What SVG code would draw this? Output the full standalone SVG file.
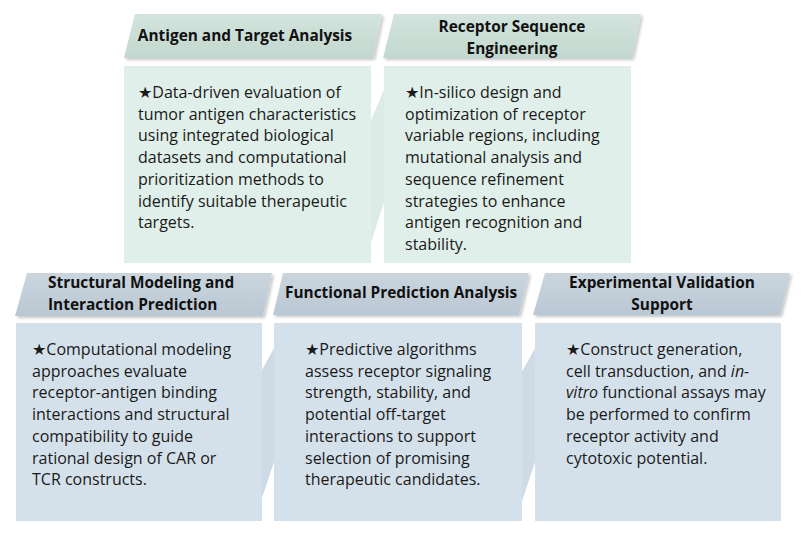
<svg xmlns="http://www.w3.org/2000/svg" width="810" height="539" viewBox="0 0 810 539">
<defs>
<linearGradient id="gG" x1="0" y1="0" x2="0" y2="1">
<stop offset="0" stop-color="#d3e4dd"/>
<stop offset="1" stop-color="#c2d8cf"/>
</linearGradient>
<linearGradient id="gB" x1="0" y1="0" x2="0" y2="1">
<stop offset="0" stop-color="#cad5de"/>
<stop offset="1" stop-color="#bac8d3"/>
</linearGradient>
<filter id="sh" x="-10%" y="-20%" width="120%" height="150%">
<feDropShadow dx="2" dy="2" stdDeviation="1.6" flood-color="#000" flood-opacity="0.22"/>
</filter>
</defs>
<style>
.hg{fill:url(#gG);filter:url(#sh)}
.hb{fill:url(#gB);filter:url(#sh)}
.bg{fill:#e0efe9}
.bb{fill:#d5e1ea}
.sg{fill:#c4ded3;opacity:0.6}
.sb{fill:#b3c8d9;opacity:0.65}
.ht{font-family:"Open Sans","Liberation Sans",sans-serif;font-weight:bold;font-size:15.4px;fill:#111}
.bt{font-family:"Open Sans","Liberation Sans","DejaVu Sans",sans-serif;font-size:16px;fill:#1a1a1a}
.c{text-anchor:middle}
</style>
<rect width="810" height="539" fill="#fff"/>

<g id="connectors">
<polygon class="sg" points="387,83 387,193 368,252 368,127"/>
<polygon class="sb" points="278,341 278,450 258,510 258,377"/>
<polygon class="sb" points="539,341 539,450 519,510 519,377"/>
</g>

<g id="antigen-target-analysis">
<polygon class="hg" points="135,14 382,14 373,58 124,58"/>
<text class="ht c" x="245" y="41">Antigen and Target Analysis</text>
<rect class="bg" x="124" y="66" width="247" height="197"/>
<text class="bt" x="138" y="98">★Data-driven evaluation of<tspan x="138" dy="21.7">tumor antigen characteristics</tspan><tspan x="138" dy="21.7">using integrated biological</tspan><tspan x="138" dy="21.7">datasets and computational</tspan><tspan x="138" dy="21.7">prioritization methods to</tspan><tspan x="138" dy="21.7">identify suitable therapeutic</tspan><tspan x="138" dy="21.7">targets.</tspan></text>
</g>

<g id="receptor-sequence-engineering">
<polygon class="hg" points="394,14 641,14 632,58 383,58"/>
<text class="ht c" x="512" y="32">Receptor Sequence<tspan x="512" dy="22">Engineering</tspan></text>
<rect class="bg" x="384" y="66" width="247" height="197"/>
<text class="bt" x="405" y="98">★In-silico design and<tspan x="405" dy="21.7">optimization of receptor</tspan><tspan x="405" dy="21.7">variable regions, including</tspan><tspan x="405" dy="21.7">mutational analysis and</tspan><tspan x="405" dy="21.7">sequence refinement</tspan><tspan x="405" dy="21.7">strategies to enhance</tspan><tspan x="405" dy="21.7">antigen recognition and</tspan><tspan x="405" dy="21.7">stability.</tspan></text>
</g>

<g id="structural-modeling">
<polygon class="hb" points="27,273 272,273 263,316 15,316"/>
<text class="ht" x="48" y="288">Structural Modeling and<tspan x="48" dy="22">Interaction Prediction</tspan></text>
<rect class="bb" x="16" y="323" width="246" height="198"/>
<text class="bt" x="32" y="355">★Computational modeling<tspan x="32" dy="21.7">approaches evaluate</tspan><tspan x="32" dy="21.7">receptor-antigen binding</tspan><tspan x="32" dy="21.7">interactions and structural</tspan><tspan x="32" dy="21.7">compatibility to guide</tspan><tspan x="32" dy="21.7">rational design of CAR or</tspan><tspan x="32" dy="21.7">TCR constructs.</tspan></text>
</g>

<g id="functional-prediction-analysis">
<polygon class="hb" points="283,273 529,273 519,315 273,315"/>
<text class="ht" x="285" y="298">Functional Prediction Analysis</text>
<rect class="bb" x="274" y="323" width="248" height="198"/>
<text class="bt" x="305" y="355">★Predictive algorithms<tspan x="305" dy="21.7">assess receptor signaling</tspan><tspan x="305" dy="21.7">strength, stability, and</tspan><tspan x="305" dy="21.7">potential off-target</tspan><tspan x="305" dy="21.7">interactions to support</tspan><tspan x="305" dy="21.7">selection of promising</tspan><tspan x="305" dy="21.7">therapeutic candidates.</tspan></text>
</g>

<g id="experimental-validation-support">
<polygon class="hb" points="545,273 790,273 780,315 533,315"/>
<text class="ht c" x="662" y="288">Experimental Validation<tspan x="662" dy="22">Support</tspan></text>
<rect class="bb" x="535" y="323" width="246" height="198"/>
<text class="bt" x="566" y="355">★Construct generation,<tspan x="566" dy="21.7">cell transduction, and <tspan font-style="italic">in-</tspan></tspan><tspan x="566" dy="21.7"><tspan font-style="italic">vitro</tspan> functional assays may</tspan><tspan x="566" dy="21.7">be performed to confirm</tspan><tspan x="566" dy="21.7">receptor activity and</tspan><tspan x="566" dy="21.7">cytotoxic potential.</tspan></text>
</g>
</svg>
